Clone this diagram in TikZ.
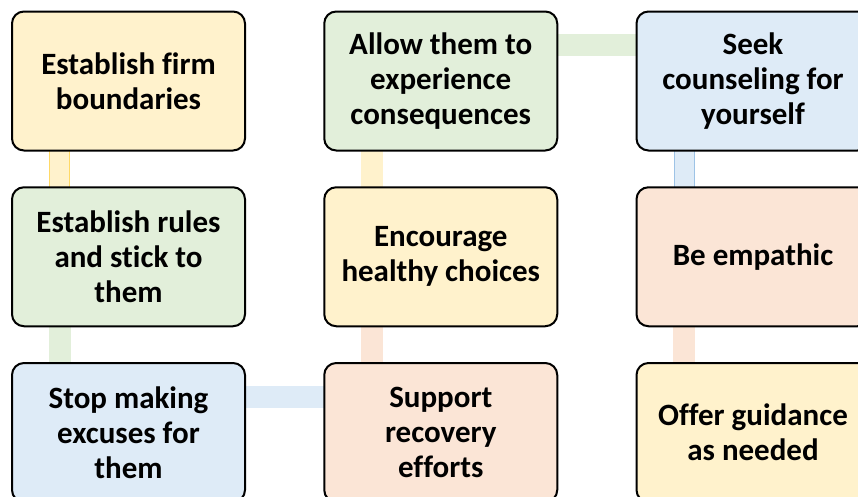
\documentclass[tikz,border=0pt]{standalone}
\usepackage{fontspec}
\setmainfont{Carlito}[Ligatures=NoCommon]
\usetikzlibrary{
  positioning,  % relative placement of the boxes
  backgrounds   % links sit behind the boxes
}
\definecolor{softyellow}{HTML}{FFF2CC}
\definecolor{softgreen}{HTML}{E2EFDA}
\definecolor{softblue}{HTML}{DEEBF7}
\definecolor{softpeach}{HTML}{FBE5D6}
\definecolor{yellowedge}{HTML}{FFD966}
\definecolor{blueedge}{HTML}{9DC3E6}
\tikzset{
  tip box/.style={
    draw=black,
    line width=2pt,
    rounded corners=12pt,
    minimum width=233pt,
    minimum height=139pt,
    inner sep=0pt,
    outer sep=0pt,
    align=center,
    font=\bfseries\fontsize{31}{35}\selectfont
  },
  link/.style={
    line width=1pt,
    double distance=20pt,
    draw=#1,
    double=#1
  },
  edged link/.style 2 args={
    line width=1pt,
    double distance=19pt,
    draw=#2,
    double=#1
  }
}

\begin{document}
\begin{tikzpicture}[x=1pt, y=-1pt, node distance=36.75pt and 79.25pt]
  % page frame, boxes on the right and bottom run past it
  \useasboundingbox (0,0) rectangle (858,496);
  \clip (0,0) rectangle (858,496);

  % ===================================
  % the nine boxes, three columns
  % ===================================
  \node[tip box, fill=softyellow] (bound) at (128.5,81) {Establish firm\\boundaries};
  \node[tip box, fill=softgreen, below=of bound] (rules) {Establish rules\\and stick to\\them};
  \node[tip box, fill=softblue, below=of rules] (excuses) {Stop making\\excuses for\\them};

  \node[tip box, fill=softpeach, right=of excuses] (support) {Support\\recovery\\efforts};
  \node[tip box, fill=softyellow, above=of support] (healthy) {Encourage\\healthy choices};
  \node[tip box, fill=softgreen, above=of healthy] (allow) {Allow them to\\experience\\consequences};

  \node[tip box, fill=softblue, right=of allow] (seek) {Seek\\counseling for\\yourself};
  \node[tip box, fill=softpeach, below=of seek] (empathic) {Be empathic};
  \node[tip box, fill=softyellow, below=of empathic] (guidance) {Offer guidance\\as needed};

  % ===================================
  % links winding through the grid
  % ===================================
  \begin{scope}[on background layer]
    \draw[edged link={softyellow}{yellowedge}] ([xshift=-69pt]bound.center) -- ([xshift=-69pt]rules.center);
    \draw[link=softgreen] ([xshift=-69pt]rules.center) -- ([xshift=-69pt]excuses.center);
    \draw[link=softblue] ([yshift=36pt]excuses.center) -- ([yshift=36pt]support.center);
    \draw[link=softpeach] ([xshift=-69pt]support.center) -- ([xshift=-69pt]healthy.center);
    \draw[link=softyellow] ([xshift=-69pt]healthy.center) -- ([xshift=-69pt]allow.center);
    \draw[link=softgreen] ([yshift=36pt]allow.center) -- ([yshift=36pt]seek.center);
    \draw[edged link={softblue}{blueedge}] ([xshift=-69pt]seek.center) -- ([xshift=-69pt]empathic.center);
    \draw[link=softpeach] ([xshift=-69pt]empathic.center) -- ([xshift=-69pt]guidance.center);
  \end{scope}
\end{tikzpicture}
\end{document}
